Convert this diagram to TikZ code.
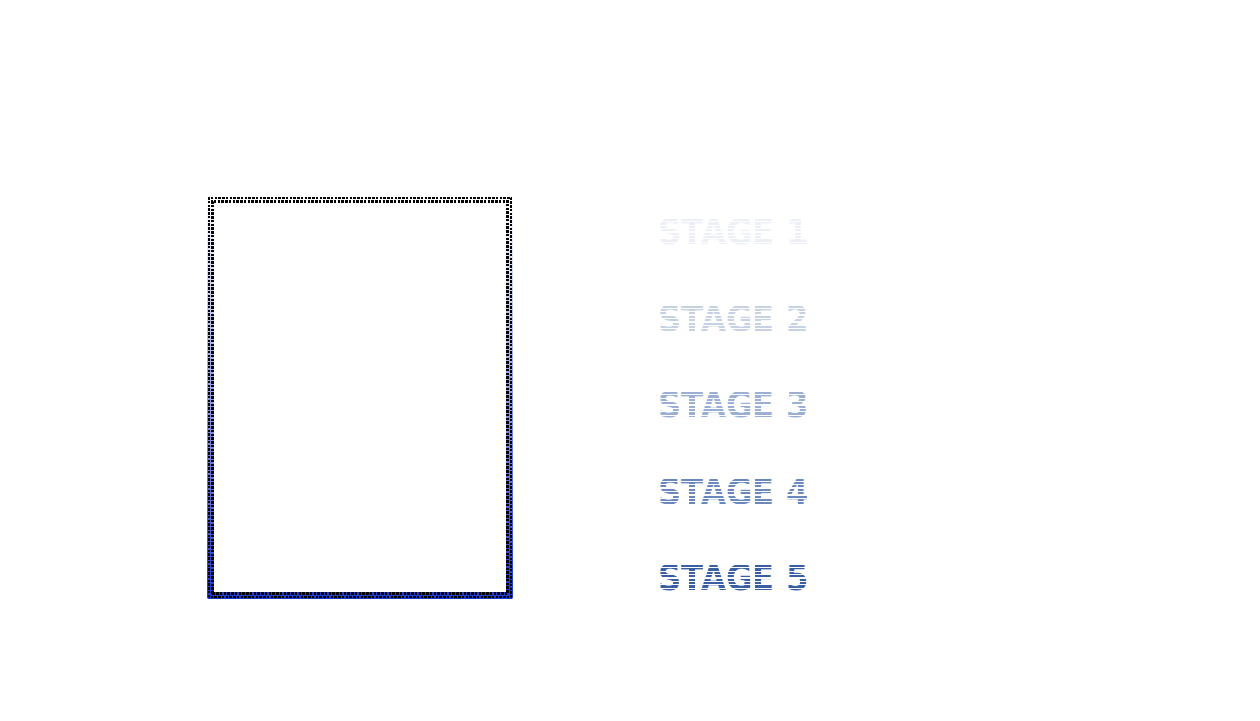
\documentclass[tikz,border=0pt]{standalone}
\usepackage{fontspec}
\setsansfont{DejaVu Sans}
\usepackage{xcolor}
\definecolor{FrameBlue}{RGB}{28, 58, 205}
\definecolor{StageOne}{RGB}{236, 239, 246}
\definecolor{StageTwo}{RGB}{198, 209, 228}
\definecolor{StageThree}{RGB}{154, 175, 211}
\definecolor{StageFour}{RGB}{106, 136, 190}
\definecolor{StageFive}{RGB}{58, 94, 162}
\usetikzlibrary{positioning}

\begin{document}
\begin{tikzpicture}[
    panel/.style={rectangle, minimum width=6.08cm, minimum height=8.02cm, inner sep=0pt},
    stagelabel/.style={font=\sffamily\bfseries\fontsize{20}{20}\selectfont, inner sep=0pt, xscale=0.92},
    dots/.style={line width=0.05cm, dash pattern=on 0.05cm off 0.025cm, black},
    stripe/.style={white, line width=0.026cm}
]

\useasboundingbox (0,0) rectangle (25.2,14.4);

% Frame with two rows of dots
\node[panel] (panel) at (7.2, 6.45) {};
\shade[top color=white, bottom color=FrameBlue] (panel.south west) rectangle (panel.north east);
\fill[white] ([shift={(0.12,0.12)}]panel.south west) rectangle ([shift={(-0.12,-0.12)}]panel.north east);
\draw[dots] ([shift={(0.025,0.025)}]panel.south west) rectangle ([shift={(-0.025,-0.025)}]panel.north east);
\draw[dots] ([shift={(0.095,0.095)}]panel.south west) rectangle ([shift={(-0.095,-0.095)}]panel.north east);

% Striped stage labels
\foreach \i/\col in {1/StageOne, 2/StageTwo, 3/StageThree, 4/StageFour, 5/StageFive} {
    \node[stagelabel, text=\col] (stage\i) at (14.67, 11.49-1.73*\i) {STAGE \i};
    \foreach \k in {-4,...,4}
        \draw[stripe] ([yshift=\k*0.068cm]stage\i.west) -- ([yshift=\k*0.068cm]stage\i.east);
}

\end{tikzpicture}
\end{document}
